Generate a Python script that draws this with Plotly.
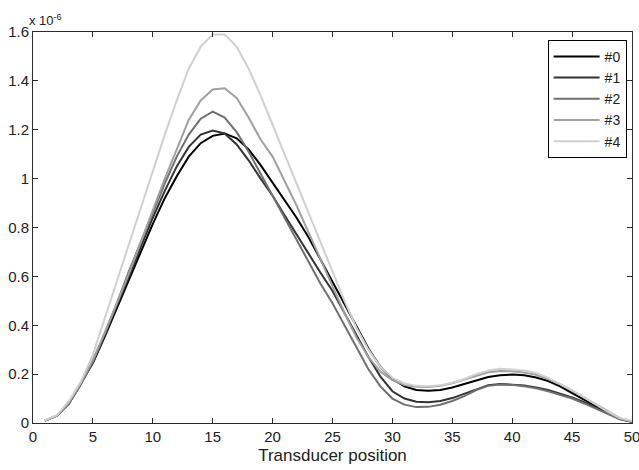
import plotly.graph_objects as go

# Transducer positions 1..50
positions = list(range(1, 51))

# Signal amplitude per position, in units of 1e-6
s0 = [0.010, 0.030, 0.080, 0.160, 0.245, 0.355, 0.470, 0.585, 0.700, 0.815,
      0.920, 1.010, 1.090, 1.145, 1.175, 1.185, 1.165, 1.120, 1.055, 0.985,
      0.915, 0.840, 0.760, 0.670, 0.580, 0.490, 0.395, 0.305, 0.230, 0.180,
      0.150, 0.135, 0.132, 0.135, 0.145, 0.160, 0.175, 0.188, 0.195, 0.198,
      0.195, 0.186, 0.172, 0.150, 0.122, 0.095, 0.068, 0.042, 0.018, 0.005]
s1 = [0.010, 0.030, 0.080, 0.160, 0.250, 0.360, 0.480, 0.600, 0.720, 0.840,
      0.950, 1.050, 1.130, 1.180, 1.197, 1.185, 1.140, 1.075, 1.000, 0.930,
      0.850, 0.770, 0.690, 0.615, 0.540, 0.450, 0.360, 0.270, 0.190, 0.130,
      0.100, 0.087, 0.085, 0.090, 0.102, 0.120, 0.140, 0.155, 0.160, 0.158,
      0.153, 0.145, 0.135, 0.120, 0.105, 0.085, 0.062, 0.038, 0.016, 0.005]
s2 = [0.010, 0.030, 0.080, 0.160, 0.250, 0.370, 0.490, 0.620, 0.740, 0.860,
      0.980, 1.090, 1.180, 1.245, 1.274, 1.250, 1.190, 1.110, 1.020, 0.930,
      0.840, 0.750, 0.660, 0.570, 0.490, 0.400, 0.310, 0.220, 0.150, 0.100,
      0.075, 0.065, 0.066, 0.075, 0.090, 0.110, 0.135, 0.152, 0.158, 0.156,
      0.150, 0.142, 0.130, 0.115, 0.100, 0.080, 0.058, 0.035, 0.015, 0.005]
s3 = [0.010, 0.030, 0.085, 0.165, 0.260, 0.370, 0.490, 0.610, 0.740, 0.870,
      1.000, 1.120, 1.240, 1.320, 1.365, 1.370, 1.330, 1.250, 1.160, 1.090,
      0.990, 0.890, 0.780, 0.670, 0.560, 0.450, 0.350, 0.270, 0.210, 0.175,
      0.155, 0.148, 0.147, 0.152, 0.163, 0.178, 0.195, 0.208, 0.213, 0.212,
      0.207, 0.197, 0.180, 0.158, 0.132, 0.104, 0.075, 0.046, 0.020, 0.007]
s4 = [0.012, 0.032, 0.090, 0.170, 0.280, 0.430, 0.580, 0.730, 0.880, 1.030,
      1.180, 1.320, 1.450, 1.540, 1.590, 1.590, 1.540, 1.450, 1.340, 1.220,
      1.100, 0.980, 0.860, 0.740, 0.620, 0.500, 0.390, 0.300, 0.230, 0.185,
      0.162, 0.152, 0.150, 0.155, 0.165, 0.180, 0.200, 0.215, 0.222, 0.220,
      0.215, 0.205, 0.185, 0.160, 0.135, 0.105, 0.075, 0.045, 0.020, 0.008]

series = [s0, s1, s2, s3, s4]
names = ["#0", "#1", "#2", "#3", "#4"]
colors = ["#000000", "#333333", "#707070", "#a0a0a0", "#d0d0d0"]

y_ticks = [0, 0.2, 0.4, 0.6, 0.8, 1.0, 1.2, 1.4, 1.6]
y_ticklabels = ["0", "0.2", "0.4", "0.6", "0.8", "1", "1.2", "1.4", "1.6"]
x_ticks = [0, 5, 10, 15, 20, 25, 30, 35, 40, 45, 50]

FONT = "Liberation Sans, Arial, sans-serif"

fig = go.Figure()
for vals, name, col in zip(series, names, colors):
    fig.add_trace(go.Scatter(x=positions, y=vals, mode="lines", name=name,
                             line=dict(color=col, width=2)))

axis_common = dict(showline=True, linecolor="#2b2b2b", linewidth=1,
                   mirror="ticks", ticks="inside", ticklen=5,
                   tickcolor="#2b2b2b", showgrid=False, zeroline=False,
                   ticklabeloverflow="allow", automargin=False,
                   tickfont=dict(family=FONT, size=15, color="#222222"))

fig.update_layout(
    width=639, height=470,
    margin=dict(l=33, r=7, t=32, b=47),
    paper_bgcolor="white", plot_bgcolor="white",
    font=dict(family=FONT, color="#222222"),
    xaxis=dict(range=[0, 50], tickvals=x_ticks,
               title=dict(text="Transducer position",
                          font=dict(family=FONT, size=17), standoff=5),
               **axis_common),
    yaxis=dict(range=[0, 1.6], tickvals=y_ticks, ticktext=y_ticklabels,
               **axis_common),
    legend=dict(x=0.991, y=0.98, xanchor="right", yanchor="top",
                bgcolor="white", bordercolor="#000000", borderwidth=1,
                itemwidth=46,
                font=dict(family=FONT, size=14, color="#222222")),
    showlegend=True,
)

fig.add_annotation(text="x 10<sup>-6</sup>", xref="paper", yref="paper",
                   x=0, y=1, xanchor="left", yanchor="bottom", showarrow=False,
                   font=dict(family=FONT, size=13, color="#222222"),
                   xshift=-6, yshift=2)

fig.write_html("out.html")
